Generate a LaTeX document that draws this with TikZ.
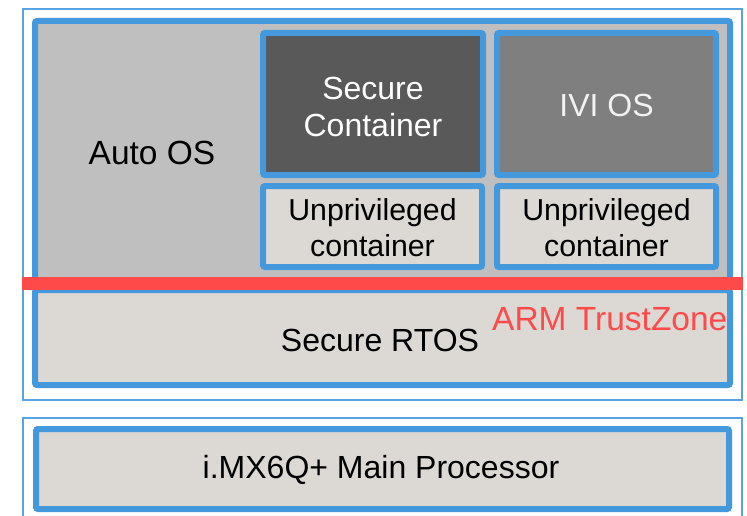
\documentclass[tikz,border=0pt]{standalone}
\usepackage{fontspec}
\setmainfont{Liberation Sans}
\definecolor{tblue}{HTML}{4499DD}
\definecolor{lblue}{HTML}{5AA3E3}
\definecolor{osgray}{HTML}{BFBFBF}
\definecolor{secgray}{HTML}{595959}
\definecolor{ivigray}{HTML}{7F7F7F}
\definecolor{light}{HTML}{DCD8D4}
\definecolor{tzred}{HTML}{FF4A4A}
\begin{document}
\begin{tikzpicture}[x=1pt,y=-1pt,
  frame/.style={draw=lblue, line width=2pt},
  blk/.style={draw=tblue, line width=6pt, rounded corners=2pt, inner sep=0pt},
  lbl/.style={font=\fontsize{32}{37}\selectfont, align=center, text=black},
  big/.style={font=\fontsize{33.5}{38}\selectfont, align=center, text=black},
  small/.style={font=\fontsize{30.3}{36}\selectfont, align=center, text=black}]
\useasboundingbox (0,0) rectangle (747,516);
\clip (0,0) rectangle (747,516);
% outer frames
\draw[frame] (23,9) rectangle (742,400);
\draw[frame] (23,418) rectangle (742,540);
% operating system layers
\node[blk, fill=osgray, minimum width=695pt, minimum height=265pt] (auto) at (382.5,153.5) {};
\node[big] (autolbl) at (152,153) {Auto OS};
\node[blk, fill=secgray, minimum width=220pt, minimum height=142pt] (sec) at (373,104) {};
\node[lbl, text=white] (seclbl) at (373,107) {Secure\\Container};
\node[blk, fill=ivigray, minimum width=219pt, minimum height=142pt] (ivi) at (606.5,104) {};
\node[lbl, text=white!95!black] (ivilbl) at (606.5,105) {IVI OS};
\node[blk, fill=light, minimum width=219pt, minimum height=81pt] (up1) at (372.5,226.5) {};
\node[small] (up1lbl) at (372.5,227.5) {Unprivileged\\container};
\node[blk, fill=light, minimum width=219pt, minimum height=81pt] (up2) at (606.5,226.5) {};
\node[small] (up2lbl) at (606.5,227.5) {Unprivileged\\container};
% secure world
\node[blk, fill=light, minimum width=695pt, minimum height=95pt] (rtos) at (382.5,337.5) {};
\node[lbl] (rtoslbl) at (380,340) {Secure RTOS};
% TrustZone boundary
\fill[tzred] (22,277) rectangle (743,290);
\node[big, text=tzred, anchor=west, inner sep=0pt] (tz) at (492,319) {ARM TrustZone};
% hardware
\node[blk, fill=light, minimum width=693pt, minimum height=80pt] (cpu) at (382.5,469) {};
\node[lbl] (cpulbl) at (381,470) {i.MX6Q+ Main Processor};
\end{tikzpicture}
\end{document}
